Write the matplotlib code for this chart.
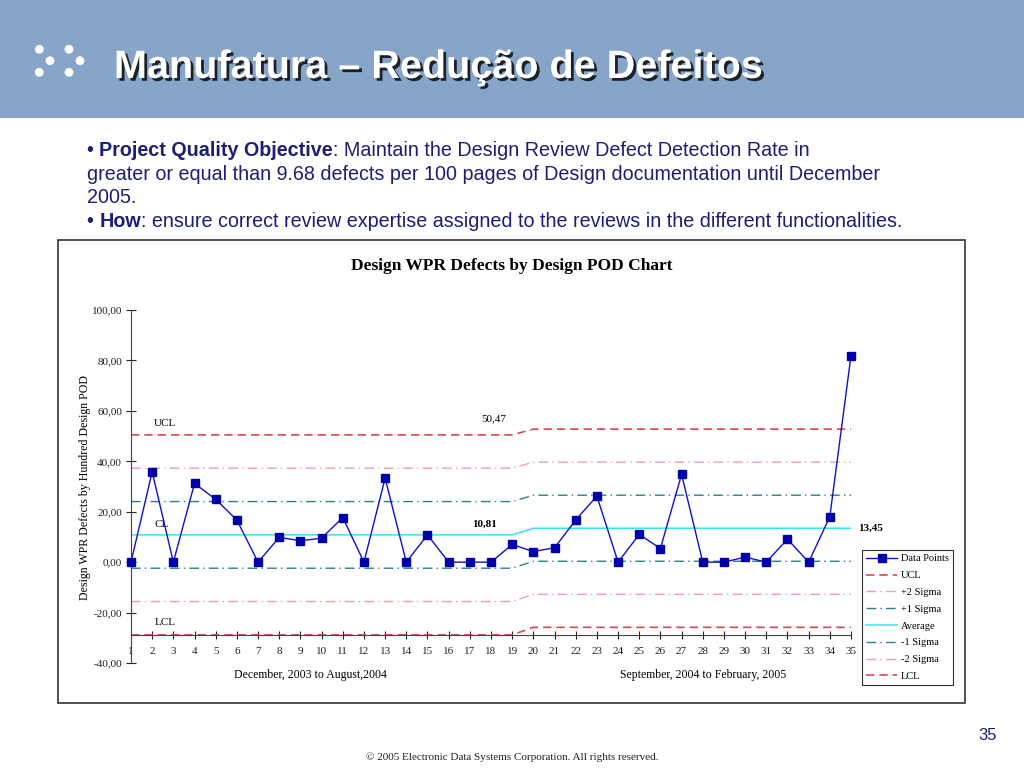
import matplotlib.pyplot as plt
import matplotlib.patheffects as pe
from matplotlib.patches import Rectangle, Circle
from matplotlib.transforms import IdentityTransform
import numpy as np

# data
points = list(range(1, 36))
defects = [0.0, 35.8, 0.0, 31.2, 24.9, 16.7, 0.0, 9.8, 8.5, 9.5,
           17.7, 0.0, 33.3, 0.0, 10.8, 0.0, 0.0, 0.0, 7.0, 4.2,
           5.7, 16.7, 26.2, 0.0, 11.0, 5.4, 34.8, 0.0, 0.0, 2.0,
           0.0, 9.1, 0.0, 18.0, 81.9]

# control limits: first period (points 1-19), second period (20-35)
n1, n2 = 19, 16
cl_1, sigma_1 = 10.81, 13.22
cl_2, sigma_2 = 13.45, 13.10

yticks = [-40, -20, 0, 20, 40, 60, 80, 100]


def limit(k):
    return [cl_1 + k * sigma_1] * n1 + [cl_2 + k * sigma_2] * n2


W, H = 1024, 768
fig = plt.figure(figsize=(W / 100, H / 100), dpi=100)
fig.patch.set_facecolor('white')


def fx(px):
    return px / W


def fy(py):
    return 1 - py / H


# slide header
fig.patches.append(Rectangle((0, fy(118)), 1, 118 / H, transform=fig.transFigure,
                             facecolor='#87A4C9', edgecolor='none', zorder=0))
for cx, cy in [(39.3, 49.3), (50, 60.7), (39.3, 72.3), (69, 49.3), (80, 60.7), (69, 72.3)]:
    fig.patches.append(Circle((cx, H - cy), 4.4, transform=IdentityTransform(),
                              facecolor='white', edgecolor='none', zorder=1))
fig.text(fx(114), fy(67), 'Manufatura – Redução de Defeitos', color='white',
         family='Liberation Sans', weight='bold', fontsize=28.5, va='center', ha='left',
         path_effects=[pe.withSimplePatchShadow(offset=(2, -2), shadow_rgbFace='black', alpha=0.8)])

# bullet text
navy = '#1c1f74'
renderer = fig.canvas.get_renderer()


def rich_line(x, y, parts, size=14.2):
    for txt, wt in parts:
        t = fig.text(fx(x), fy(y), txt, color=navy, family='Liberation Sans',
                     weight=wt, fontsize=size, va='baseline', ha='left')
        x += t.get_window_extent(renderer).width


rich_line(87, 156, [('• ', 'normal'), ('Project Quality Objective', 'bold'),
                    (': Maintain the Design Review Defect Detection Rate in', 'normal')])
rich_line(87, 180, [('greater or equal than 9.68 defects per 100 pages of Design documentation until December', 'normal')])
rich_line(87, 203, [('2005.', 'normal')])
rich_line(87, 227, [('• ', 'normal'), ('How', 'bold'),
                    (': ensure correct review expertise assigned to the reviews in the different functionalities.', 'normal')])

# chart frame
fig.patches.append(Rectangle((fx(58), fy(703)), (965 - 58) / W, (703 - 240) / H,
                             transform=fig.transFigure, fill=False, edgecolor='#333333',
                             linewidth=1.2, zorder=1))

ax = fig.add_axes([fx(131), fy(663), (851 - 131) / W, (663 - 310) / H])
ax.set_facecolor('none')

red = '#E0474C'
pink = '#F0A0A8'
teal = '#2F7F86'
cyan = '#33E6EE'

ax.plot(points, defects, color='#1010C8', lw=1, marker='s', ms=5.5,
        mfc='#0000A8', mec='#0000A8', label='Data Points', zorder=5, clip_on=False)
ax.plot(points, limit(3), color=red, lw=1.2, ls=(0, (5, 3)), label='UCL')
ax.plot(points, limit(2), color=pink, lw=1, ls=(0, (7, 3, 1, 3)), label='+2 Sigma')
ax.plot(points, limit(1), color=teal, lw=1, ls=(0, (7, 3, 1, 3)), label='+1 Sigma')
ax.plot(points, limit(0), color=cyan, lw=1.1, label='Average')
ax.plot(points, limit(-1), color=teal, lw=1, ls=(0, (7, 3, 1, 3)), label='-1 Sigma')
ax.plot(points, limit(-2), color=pink, lw=1, ls=(0, (7, 3, 1, 3)), label='-2 Sigma')
ax.plot(points, limit(-3), color=red, lw=1.2, ls=(0, (5, 3)), label='LCL')

ax.set_xlim(1, 35)
ax.set_ylim(-40, 100)
ax.spines['top'].set_visible(False)
ax.spines['right'].set_visible(False)
ax.spines['bottom'].set_position(('data', cl_1 - 3 * sigma_1))
ax.spines['left'].set_color('#444444')
ax.spines['bottom'].set_color('#444444')
ax.set_xticks(points)
ax.set_yticks(yticks)
ax.set_yticklabels([f'{v:.2f}'.replace('.', ',') for v in yticks])
ax.tick_params(axis='x', direction='inout', length=6, pad=6, labelsize=8, colors='#222222')
ax.tick_params(axis='y', direction='inout', length=7, pad=3, labelsize=8, colors='#222222')
for lab in ax.get_xticklabels() + ax.get_yticklabels():
    lab.set_family('Liberation Serif')

serif = 'Liberation Serif'
ax.text(2.1, 54.8, 'UCL', family=serif, fontsize=8, va='center', ha='left')
ax.text(2.1, 14.9, 'CL', family=serif, fontsize=8, va='center', ha='left')
ax.text(2.1, -24.0, 'LCL', family=serif, fontsize=8, va='center', ha='left')
ax.text(18.15, 56.7, '50,47', family=serif, fontsize=8, va='center', ha='center')
ax.text(17.7, 14.9, '10,81', family=serif, fontsize=8, weight='bold', va='center', ha='center')
ax.text(35.35, 13.5, '13,45', family=serif, fontsize=8, weight='bold', va='center',
        ha='left', clip_on=False)
ax.text(9.45, -44.8, 'December, 2003 to August,2004', family=serif, fontsize=8.5,
        va='center', ha='center', clip_on=False)
ax.text(28.0, -44.8, 'September, 2004 to February, 2005', family=serif, fontsize=8.5,
        va='center', ha='center', clip_on=False)

fig.text(fx(512), fy(266), 'Design WPR Defects by Design POD Chart', family=serif,
         weight='bold', fontsize=12.5, ha='center', va='center')
fig.text(fx(85), fy(488), 'Design WPR Defects by Hundred Design POD', family=serif,
         fontsize=8.6, rotation=90, ha='center', va='center')

leg = fig.legend(*ax.get_legend_handles_labels(), loc='upper left',
                 bbox_to_anchor=(fx(862), fy(550)), prop={'family': serif, 'size': 7.5},
                 frameon=True, fancybox=False, edgecolor='#333333', framealpha=1,
                 handlelength=3.0, handletextpad=0.3, labelspacing=0.72,
                 borderpad=0.4, borderaxespad=0)
leg.get_frame().set_linewidth(0.8)

# page number and footer
fig.text(fx(997), fy(736), '35', color=navy, family='Liberation Sans', fontsize=12,
         ha='right', va='center')
fig.text(fx(512), fy(757), '© 2005 Electronic Data Systems Corporation. All rights reserved.',
         family=serif, fontsize=8, ha='center', va='center', color='#222222')

fig.savefig('out.png', dpi=100)
